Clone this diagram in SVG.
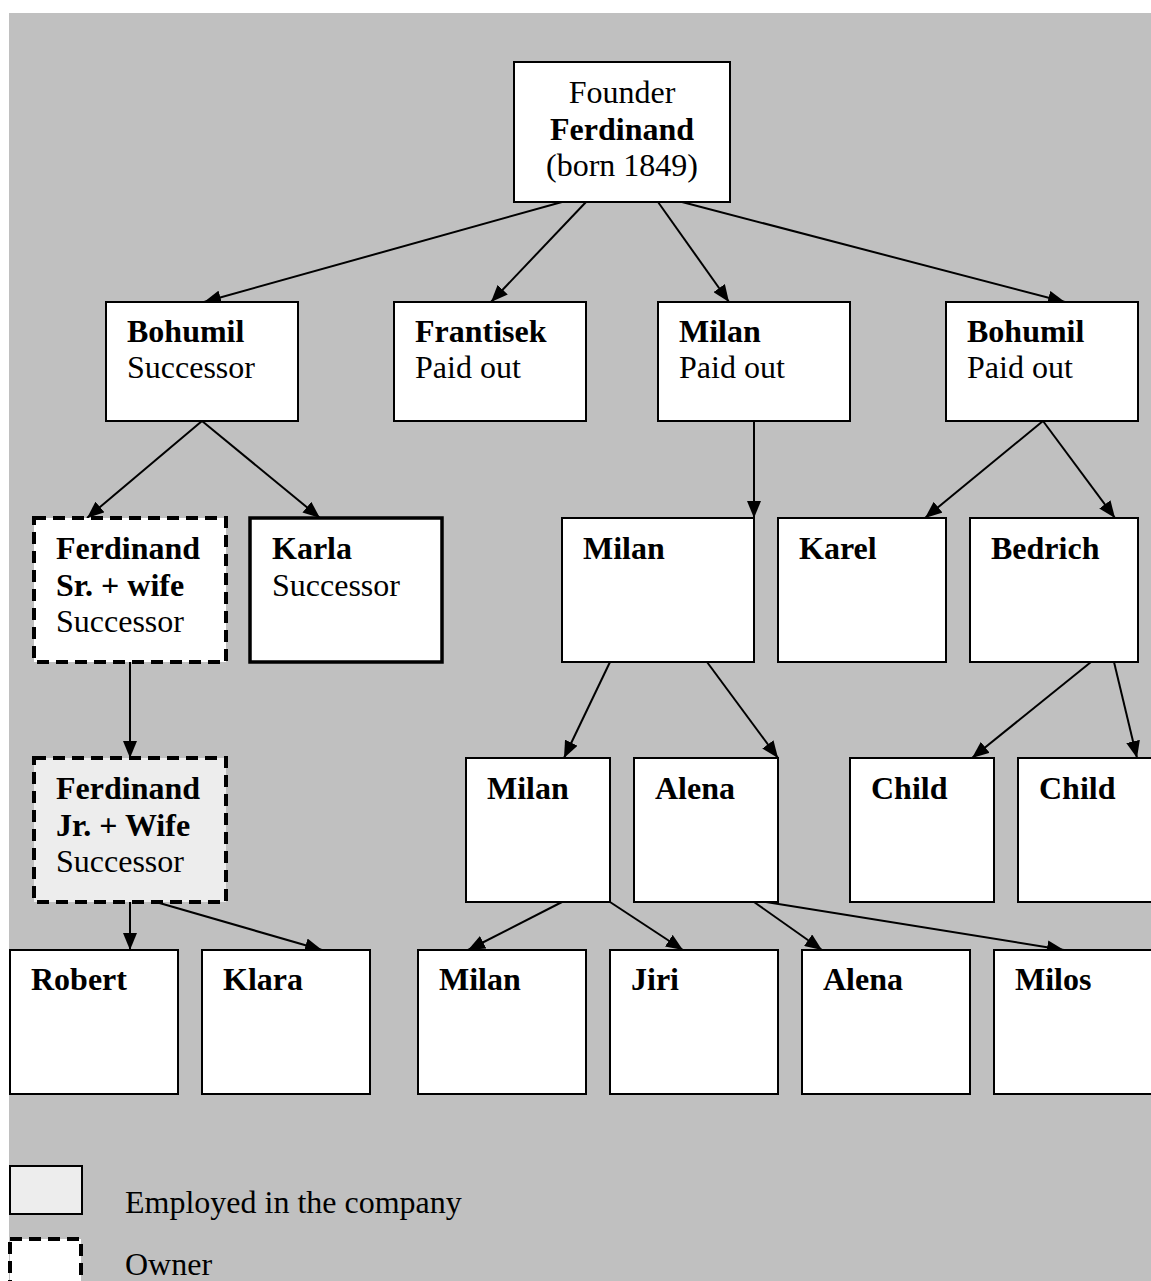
<svg xmlns="http://www.w3.org/2000/svg" width="1151" height="1281" viewBox="0 0 1151 1281">
  <style>
    text { font-family: "Liberation Serif", "Times New Roman", serif; font-size: 32px; fill: #000; }
    .b { font-weight: bold; }
    .mid { text-anchor: middle; }
    .box { fill: #fff; stroke: #000; stroke-width: 2; }
    .thick { stroke-width: 3.5; }
    .owner { stroke-width: 4; stroke-dasharray: 12 7; }
    .employed { fill: #ededed; }
    #connectors line { stroke: #000; stroke-width: 2; marker-end: url(#arr); }
  </style>
  <defs>
    <marker id="arr" markerWidth="17" markerHeight="14" refX="17" refY="7" orient="auto" markerUnits="userSpaceOnUse">
      <path d="M0,0 L17,7 L0,14 z" fill="#000"/>
    </marker>
  </defs>

  <!-- page background -->
  <rect x="0" y="0" width="1151" height="1281" fill="#fff"/>
  <rect x="9" y="13" width="1142" height="1268" fill="#c0c0c0"/>

  <!-- connectors -->
  <g id="connectors">
    <line x1="562" y1="202" x2="204" y2="302"/>
    <line x1="586" y1="202" x2="491" y2="302"/>
    <line x1="658" y1="202" x2="729" y2="302"/>
    <line x1="682" y1="202" x2="1065" y2="302"/>
    <line x1="202" y1="421" x2="87" y2="518"/>
    <line x1="202" y1="421" x2="320" y2="518"/>
    <line x1="754" y1="421" x2="754" y2="518"/>
    <line x1="1043" y1="421" x2="925" y2="518"/>
    <line x1="1043" y1="421" x2="1115" y2="518"/>
    <line x1="130" y1="662" x2="130" y2="758"/>
    <line x1="610" y1="662" x2="564" y2="758"/>
    <line x1="707" y1="662" x2="778" y2="758"/>
    <line x1="1091" y1="662" x2="972" y2="758"/>
    <line x1="1114" y1="662" x2="1137" y2="758"/>
    <line x1="130" y1="902" x2="130" y2="950"/>
    <line x1="156" y1="902" x2="322" y2="950"/>
    <line x1="562" y1="902" x2="468" y2="950"/>
    <line x1="610" y1="902" x2="683" y2="950"/>
    <line x1="754" y1="902" x2="822" y2="950"/>
    <line x1="766" y1="902" x2="1064" y2="950"/>
  </g>

  <!-- founder -->
  <g id="founder">
    <rect class="box" x="514" y="62" width="216" height="140"/>
    <text class="mid" x="622" y="103">Founder</text>
    <text class="mid b" x="622" y="140">Ferdinand</text>
    <text class="mid" x="622" y="176">(born 1849)</text>
  </g>

  <!-- second generation -->
  <g id="bohumil-successor">
    <rect class="box" x="106" y="302" width="192" height="119"/>
    <text class="b" x="127" y="342">Bohumil</text>
    <text x="127" y="378">Successor</text>
  </g>
  <g id="frantisek">
    <rect class="box" x="394" y="302" width="192" height="119"/>
    <text class="b" x="415" y="342">Frantisek</text>
    <text x="415" y="378">Paid out</text>
  </g>
  <g id="milan-1">
    <rect class="box" x="658" y="302" width="192" height="119"/>
    <text class="b" x="679" y="342">Milan</text>
    <text x="679" y="378">Paid out</text>
  </g>
  <g id="bohumil-paid">
    <rect class="box" x="946" y="302" width="192" height="119"/>
    <text class="b" x="967" y="342">Bohumil</text>
    <text x="967" y="378">Paid out</text>
  </g>

  <!-- third generation -->
  <g id="ferdinand-sr">
    <rect class="box owner" x="34" y="518" width="192" height="144"/>
    <text class="b" x="56" y="559">Ferdinand</text>
    <text class="b" x="56" y="596">Sr. + wife</text>
    <text x="56" y="632">Successor</text>
  </g>
  <g id="karla">
    <rect class="box thick" x="250" y="518" width="192" height="144"/>
    <text class="b" x="272" y="559">Karla</text>
    <text x="272" y="596">Successor</text>
  </g>
  <g id="milan-2">
    <rect class="box" x="562" y="518" width="192" height="144"/>
    <text class="b" x="583" y="559">Milan</text>
  </g>
  <g id="karel">
    <rect class="box" x="778" y="518" width="168" height="144"/>
    <text class="b" x="799" y="559">Karel</text>
  </g>
  <g id="bedrich">
    <rect class="box" x="970" y="518" width="168" height="144"/>
    <text class="b" x="991" y="559">Bedrich</text>
  </g>

  <!-- fourth generation -->
  <g id="ferdinand-jr">
    <rect class="box owner employed" x="34" y="758" width="192" height="144"/>
    <text class="b" x="56" y="799">Ferdinand</text>
    <text class="b" x="56" y="836">Jr. + Wife</text>
    <text x="56" y="872">Successor</text>
  </g>
  <g id="milan-3">
    <rect class="box" x="466" y="758" width="144" height="144"/>
    <text class="b" x="487" y="799">Milan</text>
  </g>
  <g id="alena-1">
    <rect class="box" x="634" y="758" width="144" height="144"/>
    <text class="b" x="655" y="799">Alena</text>
  </g>
  <g id="child-1">
    <rect class="box" x="850" y="758" width="144" height="144"/>
    <text class="b" x="871" y="799">Child</text>
  </g>
  <g id="child-2">
    <rect class="box" x="1018" y="758" width="144" height="144"/>
    <text class="b" x="1039" y="799">Child</text>
  </g>

  <!-- fifth generation -->
  <g id="robert">
    <rect class="box" x="10" y="950" width="168" height="144"/>
    <text class="b" x="31" y="990">Robert</text>
  </g>
  <g id="klara">
    <rect class="box" x="202" y="950" width="168" height="144"/>
    <text class="b" x="223" y="990">Klara</text>
  </g>
  <g id="milan-4">
    <rect class="box" x="418" y="950" width="168" height="144"/>
    <text class="b" x="439" y="990">Milan</text>
  </g>
  <g id="jiri">
    <rect class="box" x="610" y="950" width="168" height="144"/>
    <text class="b" x="631" y="990">Jiri</text>
  </g>
  <g id="alena-2">
    <rect class="box" x="802" y="950" width="168" height="144"/>
    <text class="b" x="823" y="990">Alena</text>
  </g>
  <g id="milos">
    <rect class="box" x="994" y="950" width="168" height="144"/>
    <text class="b" x="1015" y="990">Milos</text>
  </g>

  <!-- legend -->
  <g id="legend">
    <rect class="box employed" x="10" y="1166" width="72" height="48"/>
    <text x="125" y="1213">Employed in the company</text>
    <rect class="box owner" x="10" y="1239" width="71" height="60"/>
    <text x="125" y="1275">Owner</text>
  </g>
</svg>
